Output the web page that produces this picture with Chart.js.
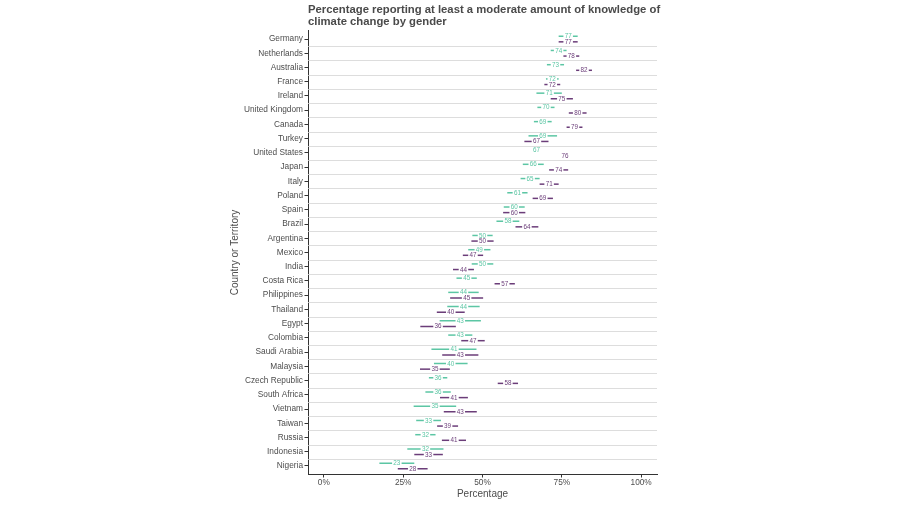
<!DOCTYPE html>
<html><head><meta charset="utf-8">
<script src="https://cdn.jsdelivr.net/npm/chart.js@4"></script>
<style>html,body{margin:0;padding:0;background:#fff}canvas{display:block}</style>
</head><body>
<canvas id="c" width="900" height="505"></canvas>
<script>
const countries = ["Germany","Netherlands","Australia","France","Ireland","United Kingdom","Canada","Turkey","United States","Japan","Italy","Poland","Spain","Brazil","Argentina","Mexico","India","Costa Rica","Philippines","Thailand","Egypt","Colombia","Saudi Arabia","Malaysia","Czech Republic","South Africa","Vietnam","Taiwan","Russia","Indonesia","Nigeria"];
// teal series (first gender group)
const tealValues = [77,74,73,72,71,70,69,69,67,66,65,61,60,58,50,49,50,45,44,44,43,43,41,40,36,36,35,33,32,32,23];
const tealMargins = [3,2.5,2.7,2,4,2.7,2.8,4.5,0.8,3.3,3,3.2,3.3,3.6,3.2,3.5,3.4,3.2,4.8,5.1,6.5,3.8,7.1,5.3,2.9,4,6.7,3.9,3.2,5.7,5.5];
// purple series (second gender group)
const purpleValues = [77,78,82,72,75,80,79,67,76,74,71,69,60,64,50,47,44,57,45,40,36,47,43,35,58,41,43,39,41,33,28];
const purpleMargins = [3,2.5,2.5,2.5,3.5,2.8,2.5,3.8,0.8,3,3,3.2,3.5,3.6,3.5,3.2,3.3,3.2,5.2,4.4,5.6,3.7,5.7,4.7,3.2,4.4,5.2,3.3,3.8,4.5,4.7];
const xTickValues = [0,25,50,75,100];
const titleLines = ["Percentage reporting at least a moderate amount of knowledge of","climate change by gender"];

const TEAL = '#5cc6a4';
const PURPLE = '#6b3d79';
const TEXT = '#4d4d4d';
const FONT = '"Liberation Sans", Arial, sans-serif';

const errorPlugin = {
  id: 'errorbars',
  beforeDatasetsDraw(chart) {
    const {ctx, chartArea, scales:{x, y}} = chart;
    ctx.save();
    ctx.strokeStyle = '#d4d4d4';
    ctx.lineWidth = 0.8;
    for (let i = 0; i < countries.length - 1; i++) {
      const py = Math.round(y.getPixelForValue(i + 0.5)) + 0.5;
      ctx.beginPath();
      ctx.moveTo(chartArea.left, py);
      ctx.lineTo(chartArea.right, py);
      ctx.stroke();
    }
    ctx.restore();
  },
  afterDatasetsDraw(chart) {
    const {ctx, scales:{x, y}} = chart;
    ctx.save();
    chart.data.datasets.forEach(ds => {
      const off = ds.dodge;
      ds.data.forEach((p, i) => {
        const py = y.getPixelForValue(p.y) + off;
        const x1 = x.getPixelForValue(p.x - p.m);
        const x2 = x.getPixelForValue(p.x + p.m);
        ctx.strokeStyle = ds.lineColor;
        ctx.lineWidth = 1.5;
        ctx.beginPath();
        ctx.moveTo(x1, py);
        ctx.lineTo(x2, py);
        ctx.stroke();
      });
    });
    chart.data.datasets.forEach(ds => {
      const off = ds.dodge;
      ctx.font = '6.3px ' + FONT;
      ctx.textAlign = 'center';
      ctx.textBaseline = 'middle';
      ds.data.forEach((p, i) => {
        const py = y.getPixelForValue(p.y) + off;
        const px = x.getPixelForValue(p.x);
        const t = String(p.x);
        const w = ctx.measureText(t).width + 2.5;
        ctx.fillStyle = '#fff';
        ctx.fillRect(px - w/2, py - 2.5, w, 5);
        ctx.fillStyle = ds.lineColor;
        ctx.fillText(t, px, py + 0.3);
      });
    });
    // title
    ctx.fillStyle = '#4a4a4a';
    ctx.font = 'bold 11.3px ' + FONT;
    ctx.textAlign = 'left';
    ctx.textBaseline = 'middle';
    titleLines.forEach((l, k) => ctx.fillText(l, chart.chartArea.left, 9.5 + k * 12));
    ctx.restore();
  }
};

new Chart(document.getElementById('c'), {
  type: 'scatter',
  data: {
    datasets: [
      { label: 'Teal', dodge: -2.8, lineColor: TEAL, pointRadius: 0,
        data: tealValues.map((v, i) => ({x: v, y: i, m: tealMargins[i]})) },
      { label: 'Purple', dodge: 2.8, lineColor: PURPLE, pointRadius: 0,
        data: purpleValues.map((v, i) => ({x: v, y: i, m: purpleMargins[i]})) }
    ]
  },
  options: {
    responsive: false,
    animation: false,
    events: [],
    layout: { padding: { left: 225, right: 243, top: 30.5, bottom: 0 } },
    plugins: { legend: { display: false }, tooltip: { enabled: false }, title: { display: false } },
    scales: {
      x: {
        type: 'linear', min: -5, max: 105,
        afterBuildTicks: s => { s.ticks = xTickValues.map(v => ({value: v})); },
        afterFit: s => { s.height = 30.5; },
        grid: { drawOnChartArea: false, tickLength: 3, tickColor: '#333', tickWidth: 1 },
        border: { color: '#333', width: 1 },
        ticks: { color: TEXT, font: { family: FONT, size: 8.3 }, padding: 0, maxRotation: 0,
          callback: v => v + '%' },
        title: { display: true, text: 'Percentage', color: TEXT, font: { family: FONT, size: 10 },
          padding: { top: 0, bottom: 4.5 } }
      },
      y: {
        type: 'linear', min: -0.6, max: countries.length - 0.4, reverse: true,
        afterBuildTicks: s => { s.ticks = countries.map((c, i) => ({value: i})); },
        afterFit: s => { s.width = 83; },
        grid: { drawOnChartArea: false, tickLength: 3.5, tickColor: '#333', tickWidth: 1 },
        border: { color: '#333', width: 1 },
        ticks: { color: TEXT, font: { family: FONT, size: 8.3 }, padding: 1.5, autoSkip: false,
          callback: v => countries[v] },
        title: { display: true, text: 'Country or Territory', color: TEXT, font: { family: FONT, size: 10 },
          padding: { top: 4, bottom: 0 } }
      }
    }
  },
  plugins: [errorPlugin]
});
</script>
</body></html>
